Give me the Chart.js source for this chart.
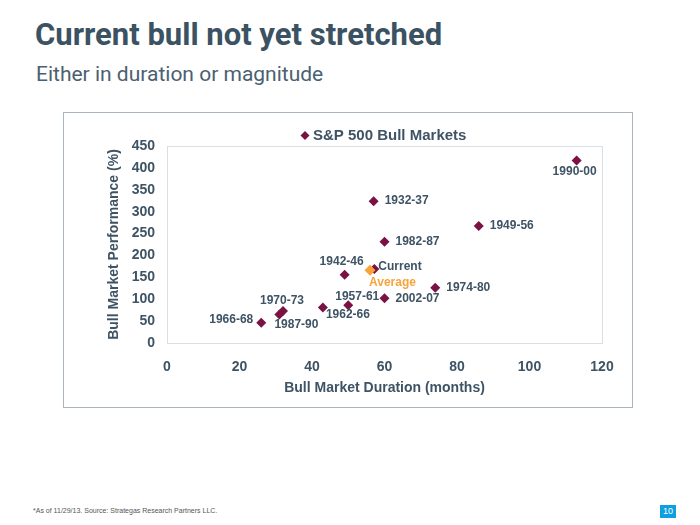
<!DOCTYPE html>
<html>
<head>
<meta charset="utf-8">
<script src="https://cdn.jsdelivr.net/npm/chart.js@4/dist/chart.umd.min.js"></script>
<style>
  html, body { margin: 0; padding: 0; background: #fff; }
  .page { position: relative; width: 700px; height: 525px; overflow: hidden; font-family: Roboto, 'Liberation Sans', sans-serif; }
  .title { position: absolute; left: 35px; top: 16px; font-size: 31px; font-weight: 700; color: #3b5263; letter-spacing: 0px; white-space: nowrap; }
  .subtitle { position: absolute; left: 36px; top: 62px; font-size: 21px; font-weight: 400; color: #4b6070; white-space: nowrap; }
  .box { position: absolute; left: 63px; top: 112px; width: 570px; height: 296px; border: 1px solid #a9b4bd; box-sizing: border-box; }
  .box canvas { display: block; }
  .note { position: absolute; left: 33px; top: 507px; font-family: 'Liberation Sans', Arial, sans-serif; font-size: 7px; color: #555; white-space: nowrap; }
  .pgnum { position: absolute; left: 660px; top: 505px; width: 16px; height: 13px; background: #0e9fe0; color: #fff; font-family: 'Liberation Sans', Arial, sans-serif; font-size: 9px; line-height: 13px; text-align: center; }
</style>
</head>
<body>
<div class="page">
  <div class="title">Current bull not yet stretched</div>
  <div class="subtitle">Either in duration or magnitude</div>
  <div class="box"><canvas id="bullChart" width="568" height="294"></canvas></div>
  <div class="note">*As of 11/29/13. Source: Strategas Research Partners LLC.</div>
  <div class="pgnum">10</div>
</div>
<script>
// ===== Data =====
const periods        = ['1932-37', '1942-46', '1949-56', '1957-61', '1962-66', '1966-68', '1970-73', '1974-80', '1982-87', '1987-90', '1990-00', '2002-07'];
const durationMonths = [57, 49, 86, 50, 43, 26, 32, 74, 60, 31, 113, 60];
const performancePct = [324, 156, 267, 86, 81, 46, 73, 126, 231, 65, 417, 102];

const currentDuration = [57.2];
const currentPerf     = [169];
const averageDuration = [56];
const averagePerf     = [166];

const xTicks = [0, 20, 40, 60, 80, 100, 120];
const yTicks = [0, 50, 100, 150, 200, 250, 300, 350, 400, 450];

// ===== Styles =====
const maroon = '#7a1243';
const orange = '#f7a43a';
const slate  = '#3e5364';
const FONT   = "'Liberation Sans', Arial, sans-serif";

// label placement next to each point (align, dx, dy in px)
const labelSpots = {
  '1932-37': ['left', 11, 0],
  '1942-46': ['center', -3, -13],
  '1949-56': ['left', 11, 0],
  '1957-61': ['center', 9, -9],
  '1962-66': ['left', 3, 7],
  '1966-68': ['right', -8, -3],
  '1970-73': ['center', -1, -10],
  '1974-80': ['left', 11, 0],
  '1982-87': ['left', 11, 0],
  '1987-90': ['left', -5, 10],
  '1990-00': ['center', -2, 11],
  '2002-07': ['left', 11, 0],
  'Current': ['left', 4, -2],
  'Average': ['left', -1, 12],
};

function toXY(xs, ys) {
  return xs.map((x, i) => ({ x: x, y: ys[i] }));
}

function diamond(ctx, x, y, r, color) {
  ctx.beginPath();
  ctx.moveTo(x, y - r);
  ctx.lineTo(x + r, y);
  ctx.lineTo(x, y + r);
  ctx.lineTo(x - r, y);
  ctx.closePath();
  ctx.fillStyle = color;
  ctx.fill();
}

// plot frame, legend and point labels
const decorations = {
  id: 'decorations',
  beforeDatasetsDraw(chart) {
    const { ctx, chartArea: a } = chart;
    ctx.save();
    ctx.strokeStyle = '#d9e0e5';
    ctx.lineWidth = 1;
    ctx.strokeRect(a.left + 0.5, a.top + 0.5, a.right - a.left, a.bottom - a.top);
    ctx.restore();
  },
  afterDatasetsDraw(chart) {
    const { ctx } = chart;
    ctx.save();
    ctx.font = 'bold 12px ' + FONT;
    ctx.textBaseline = 'middle';
    chart.data.datasets.forEach((ds, di) => {
      const meta = chart.getDatasetMeta(di);
      meta.data.forEach((pt, i) => {
        const name = ds.names[i];
        const spot = labelSpots[name];
        if (!spot) return;
        ctx.textAlign = spot[0];
        ctx.fillStyle = ds.labelColor;
        ctx.fillText(name, pt.x + spot[1], pt.y + spot[2]);
      });
    });
    // legend (only the bull market series)
    const bull = chart.data.datasets.find(d => d.legend);
    diamond(ctx, 241, 22.5, 4.5, bull.pointBackgroundColor);
    ctx.font = 'bold 15px ' + FONT;
    ctx.textAlign = 'left';
    ctx.fillStyle = slate;
    ctx.fillText(bull.label, 249, 23);
    ctx.restore();
  }
};

new Chart(document.getElementById('bullChart').getContext('2d'), {
  type: 'scatter',
  data: {
    datasets: [
      {
        label: 'Average',
        names: ['Average'],
        labelColor: orange,
        data: toXY(averageDuration, averagePerf),
        pointStyle: 'rectRot',
        pointRadius: 5.5,
        pointBackgroundColor: orange,
        pointBorderWidth: 0,
        order: 0,
      },
      {
        label: 'S&P 500 Bull Markets',
        legend: true,
        names: periods,
        labelColor: slate,
        data: toXY(durationMonths, performancePct),
        pointStyle: 'rectRot',
        pointRadius: 5,
        pointBackgroundColor: maroon,
        pointBorderWidth: 0,
        order: 1,
      },
      {
        label: 'Current',
        names: ['Current'],
        labelColor: slate,
        data: toXY(currentDuration, currentPerf),
        pointStyle: 'rectRot',
        pointRadius: 5,
        pointBackgroundColor: maroon,
        pointBorderWidth: 0,
        order: 2,
      },
    ]
  },
  options: {
    responsive: false,
    devicePixelRatio: 1,
    animation: false,
    layout: { padding: { top: 33, right: 30, left: 0, bottom: 0 } },
    plugins: {
      legend: { display: false },
      tooltip: { enabled: false },
    },
    scales: {
      x: {
        type: 'linear',
        min: xTicks[0],
        max: xTicks[xTicks.length - 1],
        afterBuildTicks: (s) => { s.ticks = xTicks.map(v => ({ value: v })); },
        afterFit: (s) => { s.height = 64; },
        grid: { display: false, drawTicks: false },
        border: { display: false },
        ticks: {
          padding: 16,
          color: slate,
          font: { family: FONT, size: 14, weight: 'bold', lineHeight: 1.2 },
        },
        title: {
          display: true,
          text: 'Bull Market Duration (months)',
          color: slate,
          padding: { top: 0, bottom: 10 },
          font: { family: FONT, size: 14, weight: 'bold', lineHeight: 1.2 },
        }
      },
      y: {
        type: 'linear',
        min: yTicks[0],
        max: yTicks[yTicks.length - 1],
        afterBuildTicks: (s) => { s.ticks = yTicks.map(v => ({ value: v })); },
        afterFit: (s) => { s.width = 103; },
        grid: { display: false, drawTicks: false },
        border: { display: false },
        ticks: {
          padding: 12,
          color: slate,
          font: { family: FONT, size: 14, weight: 'bold', lineHeight: 1.2 },
        },
        title: {
          display: true,
          text: 'Bull Market Performance (%)',
          color: slate,
          padding: { top: 42, bottom: 0 },
          font: { family: FONT, size: 14, weight: 'bold', lineHeight: 1.2 },
        }
      }
    }
  },
  plugins: [decorations]
});
</script>
</body>
</html>
